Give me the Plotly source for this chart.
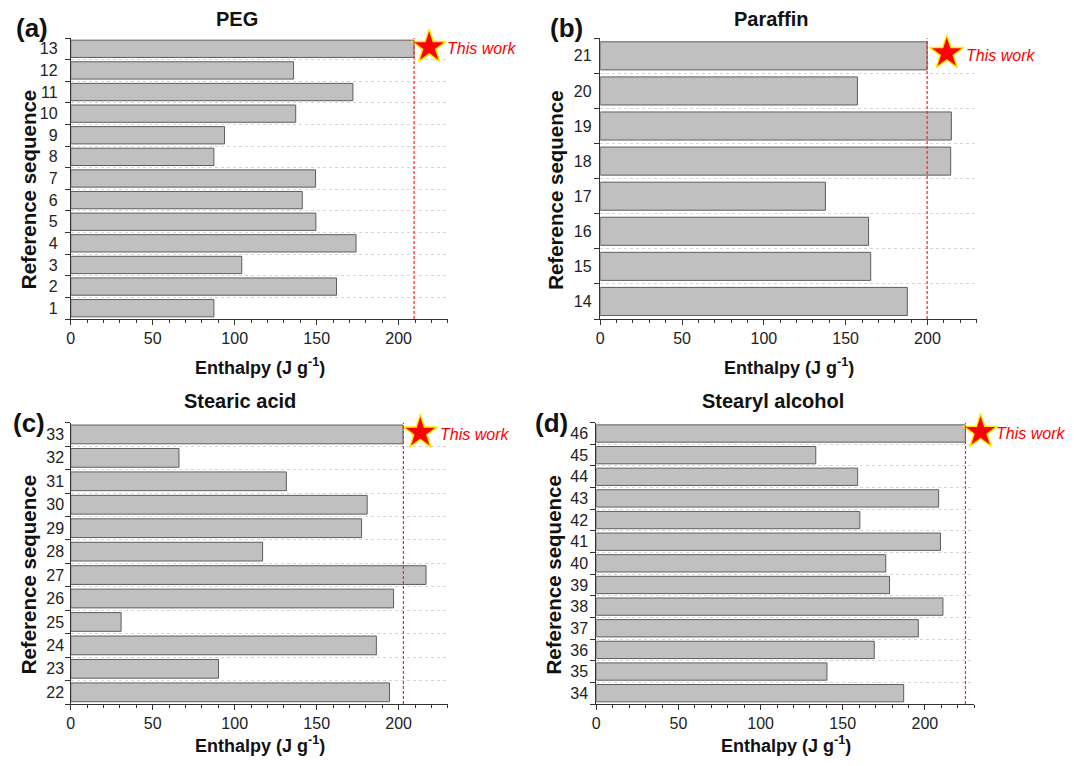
import plotly.graph_objects as go

# ---- data ----
peg_ref = list(range(1, 14))
peg_enthalpy = [87.3, 162.1, 104.3, 174.0, 149.5, 141.2, 149.3, 87.3, 93.8, 137.2, 172.1, 135.9, 209.4]
peg_this_work = 209.4

paraffin_ref = list(range(14, 22))
paraffin_enthalpy = [187.7, 165.3, 164.0, 137.6, 214.2, 214.6, 157.2, 199.8]
paraffin_this_work = 199.8

stearic_ref = list(range(22, 34))
stearic_enthalpy = [194.4, 90.1, 186.4, 30.7, 196.9, 216.7, 117.0, 177.4, 180.8, 131.5, 66.0, 202.7]
stearic_this_work = 202.9

stearyl_ref = list(range(34, 47))
stearyl_enthalpy = [187.1, 140.4, 169.2, 196.0, 211.0, 178.5, 176.2, 209.5, 160.4, 208.4, 159.1, 133.6, 224.7]
stearyl_this_work = 224.7

titles = ["PEG", "Paraffin", "Stearic acid", "Stearyl alcohol"]
panel_labels = ["(a)", "(b)", "(c)", "(d)"]
x_ticks = [0, 50, 100, 150, 200]

# page body has an 8px margin: figure is drawn at (8, 8)
OFF = 8
W, H = 1074 - 2 * OFF, 766 - 2 * OFF
FONT = "Liberation Sans, Arial, sans-serif"
XMAX = 230
XMAX_EXT = 280

panels = [
    dict(ref=peg_ref, val=peg_enthalpy, tw=peg_this_work, star=218.6, txt=228.0, tl=9,
         px=(67, 445.5), py=(38, 319), title=(233.4, 19.5), lab=(28.4, 28), xt=(257, 366), yt=(24.2, 190)),
    dict(ref=paraffin_ref, val=paraffin_enthalpy, tw=paraffin_this_work, star=211.8, txt=222.3, tl=4.5,
         px=(598.5, 976.2), py=(38.3, 319), title=(769.6, 19.5), lab=(565, 28), xt=(787.9, 366), yt=(552.9, 190)),
    dict(ref=stearic_ref, val=stearic_enthalpy, tw=stearic_this_work, star=213.2, txt=223.9, tl=2.5,
         px=(67, 445.5), py=(422.7, 704), title=(237.1, 401), lab=(25.2, 423), xt=(257, 744), yt=(24.4, 575)),
    dict(ref=stearyl_ref, val=stearyl_enthalpy, tw=stearyl_this_work, star=233.9, txt=241.8, tl=4,
         px=(594.5, 973.8), py=(422.7, 704), title=(771.6, 401), lab=(549.5, 423), xt=(784.7, 744), yt=(550.6, 575)),
]


def fx(px):
    return (px - OFF) / W


def fy(py):
    return 1 - (py - OFF) / H


fig = go.Figure()
layout = dict(
    width=W, height=H,
    margin=dict(l=0, r=0, t=0, b=0),
    paper_bgcolor="white", plot_bgcolor="rgba(0,0,0,0)",
    showlegend=False, bargap=0.2,
    font=dict(family=FONT, color="#222222"),
)
annotations = []
shapes = []

for i, p in enumerate(panels):
    n = i + 1
    m = n + 4
    xa = "x" if n == 1 else f"x{n}"
    ya = "y" if n == 1 else f"y{n}"
    xkey = "xaxis" if n == 1 else f"xaxis{n}"
    ykey = "yaxis" if n == 1 else f"yaxis{n}"
    xe, ye = f"x{m}", f"y{m}"
    lo, hi = p["ref"][0], p["ref"][-1]

    x0, x1 = fx(p["px"][0]), fx(p["px"][1])
    y0, y1 = fy(p["py"][1]), fy(p["py"][0])
    x1_ext = min(1.0, x0 + (x1 - x0) * XMAX_EXT / XMAX)

    fig.add_trace(go.Bar(
        x=p["val"], y=p["ref"], orientation="h", xaxis=xa, yaxis=ya,
        marker=dict(color="#c0c0c0", line=dict(color="#5e5e5e", width=1)),
        hoverinfo="x+y",
    ))
    fig.add_trace(go.Scatter(
        x=[p["star"]], y=[hi + 0.08], mode="markers", xaxis=xe, yaxis=ye,
        marker=dict(symbol="star", size=26, color="red", line=dict(color="#ffee00", width=1.5)),
        cliponaxis=False, hoverinfo="skip",
    ))

    layout[xkey] = dict(
        domain=[x0, x1], anchor=ya, range=[0, XMAX],
        showline=True, linecolor="#333333", linewidth=1,
        ticks="outside", ticklen=5, tickcolor="#333333",
        tickvals=x_ticks, showgrid=False, zeroline=False,
        tickfont=dict(size=16, color="#222222", family=FONT),
        minor=dict(dtick=10, tick0=0, ticks="outside", ticklen=3, tickcolor="#333333", showgrid=False),
    )
    layout[ykey] = dict(
        domain=[y0, y1], anchor=xa,
        range=[lo - 0.5, hi + 0.5],
        showline=True, linecolor="#333333", linewidth=1,
        tickvals=p["ref"], ticktext=[str(r) for r in p["ref"]],
        ticks="outside", ticklen=p["tl"], tickcolor="rgba(0,0,0,0)",
        showgrid=False, zeroline=False,
        tickfont=dict(size=16, color="#222222", family=FONT),
        minor=dict(tick0=0.5, dtick=1, ticks="outside", ticklen=5, tickcolor="#333333",
                   showgrid=True, gridcolor="#d6d6d6", griddash="dot", gridwidth=1),
    )
    # hidden, same-scale axes extended to the right (for the star marker and label)
    layout[f"xaxis{m}"] = dict(domain=[x0, x1_ext], anchor=ye, range=[0, XMAX_EXT], visible=False)
    layout[f"yaxis{m}"] = dict(domain=[y0, y1], anchor=xe, range=[lo - 0.5, hi + 0.5], visible=False)

    shapes.append(dict(type="line", xref=xa, yref=f"{ya} domain", x0=p["tw"], x1=p["tw"], y0=0, y1=1,
                       line=dict(color="#ff2020", width=1.2, dash="3px,2px"), layer="above"))

    annotations.append(dict(x=p["txt"], y=hi, xref=xe, yref=ye, text="<i>This work</i>",
                            showarrow=False, xanchor="left", yanchor="middle",
                            font=dict(size=16, color="red", family=FONT)))
    annotations.append(dict(x=fx(p["title"][0]), y=fy(p["title"][1]), xref="paper", yref="paper",
                            text=f"<b>{titles[i]}</b>", showarrow=False, xanchor="center", yanchor="middle",
                            font=dict(size=20, color="#111111", family=FONT)))
    annotations.append(dict(x=fx(p["lab"][0]), y=fy(p["lab"][1]), xref="paper", yref="paper",
                            text=f"<b>{panel_labels[i]}</b>", showarrow=False, xanchor="center", yanchor="middle",
                            font=dict(size=26, color="#111111", family=FONT)))
    annotations.append(dict(x=fx(p["xt"][0]), y=fy(p["xt"][1]), xref="paper", yref="paper",
                            text="<b>Enthalpy (J g<sup>-1</sup>)</b>", showarrow=False,
                            xanchor="center", yanchor="middle",
                            font=dict(size=18, color="#111111", family=FONT)))
    annotations.append(dict(x=fx(p["yt"][0]), y=fy(p["yt"][1]), xref="paper", yref="paper",
                            text="<b>Reference sequence</b>", showarrow=False, textangle=-90,
                            xanchor="center", yanchor="middle",
                            font=dict(size=20.5, color="#111111", family=FONT)))

layout["annotations"] = annotations
layout["shapes"] = shapes
fig.update_layout(**layout)
fig.write_html("out.html")
